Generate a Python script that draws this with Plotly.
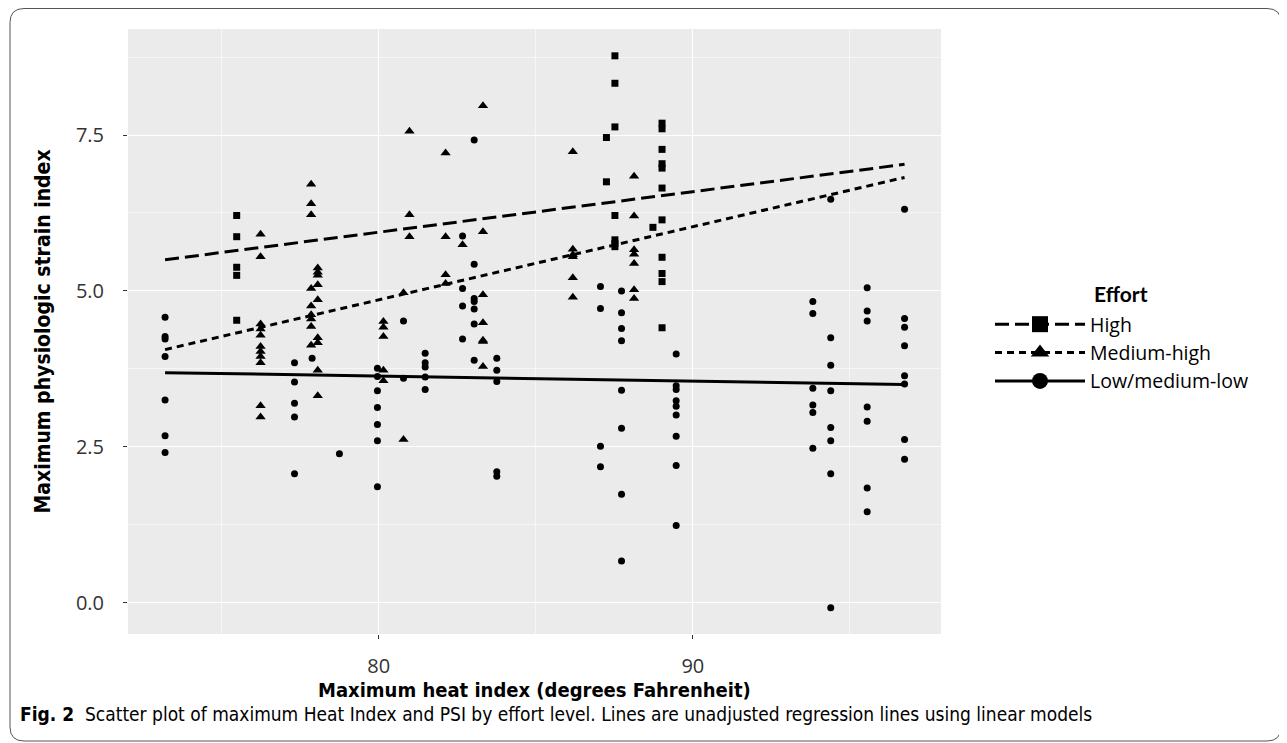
import plotly.graph_objects as go

# ---------------- data ----------------
high_x = [75.48]*5 + [87.25]*2 + [87.52]*7 + [88.73] + [89.02]*11
high_y = [6.21, 5.87, 5.38, 5.25, 4.53,
          7.46, 6.75,
          8.77, 8.33, 7.63, 6.21, 5.82, 5.76, 5.71,
          6.02,
          7.69, 7.60, 7.27, 7.04, 6.97, 6.65, 6.14, 5.54, 5.28, 5.15, 4.41]

med_x = ([76.24]*11 + [77.85]*9 + [78.06]*9 + [80.15]*5 + [80.79]*2 +
         [80.98]*3 + [82.13]*4 + [82.67] + [83.32]*7 + [86.18]*6 + [88.13]*7)
med_y = [5.91, 5.55, 4.47, 4.39, 4.29, 4.11, 4.03, 3.95, 3.85, 3.16, 2.98,
         6.71, 6.40, 6.22, 5.04, 4.76, 4.62, 4.55, 4.43, 4.13,
         5.37, 5.30, 5.25, 5.10, 4.86, 4.25, 4.17, 3.73, 3.32,
         4.51, 4.42, 4.27, 3.73, 3.56,
         4.97, 2.62,
         7.56, 6.22, 5.87,
         7.21, 5.87, 5.26, 5.12,
         5.74,
         7.97, 5.95, 4.94, 4.49, 4.21, 4.19, 3.79,
         7.23, 5.67, 5.58, 5.55, 5.21, 4.90,
         6.84, 6.20, 5.66, 5.59, 5.44, 5.02, 4.88]

low_x = ([73.20]*7 + [77.32]*5 + [77.88] + [78.75] + [79.96]*7 + [80.79]*2 +
         [81.48]*5 + [82.67]*4 + [83.04]*7 + [83.76]*5 + [87.06]*4 + [87.73]*8 +
         [89.47]*9 + [93.82]*6 + [94.39]*8 + [95.55]*7 + [96.74]*8)
low_y = [4.58, 4.27, 4.23, 3.95, 3.25, 2.68, 2.41,
         3.85, 3.54, 3.20, 2.98, 2.07,
         3.92,
         2.39,
         3.76, 3.63, 3.40, 3.13, 2.86, 2.60, 1.86,
         4.52, 3.60,
         4.00, 3.85, 3.78, 3.62, 3.42,
         5.88, 5.04, 4.76, 4.23,
         7.42, 5.43, 4.88, 4.83, 4.71, 4.47, 3.89,
         3.92, 3.73, 3.55, 2.10, 2.03,
         5.07, 4.72, 2.51, 2.18,
         5.00, 4.65, 4.40, 4.20, 3.41, 2.80, 1.74, 0.67,
         3.99, 3.48, 3.42, 3.24, 3.15, 3.01, 2.67, 2.20, 1.24,
         4.83, 4.64, 3.44, 3.17, 3.05, 2.48,
         6.47, 4.25, 3.81, 3.40, 2.81, 2.60, 2.07, -0.08,
         5.05, 4.68, 4.52, 3.14, 2.91, 1.84, 1.46,
         6.31, 4.56, 4.42, 4.12, 3.64, 3.51, 2.62, 2.30]

# regression line end points
fit_x = [73.20, 96.74]
high_fit = [5.50, 7.03]
med_fit = [4.06, 6.82]
low_fit = [3.69, 3.50]

groups = ["High", "Medium-high", "Low/medium-low"]

x_ticks = [80, 90]
x_minor = [75, 85, 95]
y_ticks = [0, 2.5, 5, 7.5]
y_ticklabels = ["0.0", "2.5", "5.0", "7.5"]
y_minor = [1.25, 3.75, 6.25, 8.75]

x_title = "Maximum heat index (degrees Fahrenheit)"
y_title = "Maximum physiologic strain index"
caption_bold = "Fig. 2"
caption_text = "Scatter plot of maximum Heat Index and PSI by effort level. Lines are unadjusted regression lines using linear models"

# ---------------- styling ----------------
OFF = 8  # page body margin of the browser
W, H = 1287 - OFF, 743 - OFF
ML, MT = 128 - OFF, 29 - OFF
PW, PH = 813, 605
MR, MB = W - ML - PW, H - MT - PH
COND = "Liberation Sans Narrow, DejaVu Sans Condensed, Arial Narrow, sans-serif"
TICKF = "Open Sans, DejaVu Sans, sans-serif"
LEGF = "Open Sans, Lato, sans-serif"

def px2x(p):
    return (p - OFF - ML) / PW

def px2y(p):
    return (MT + PH - (p - OFF)) / PH

symbols = ["square", "triangle-up", "circle"]
sizes = [7, 9, 7]
dashes = ["14px,6px", "7px,5px", "solid"]

fig = go.Figure()
for xs, ys, sym, sz in zip([high_x, med_x, low_x], [high_y, med_y, low_y], symbols, sizes):
    fig.add_trace(go.Scatter(x=xs, y=ys, mode="markers",
                             marker=dict(symbol=sym, size=sz, color="black"),
                             showlegend=False, hoverinfo="x+y"))
for fy, d in zip([high_fit, med_fit, low_fit], dashes):
    fig.add_trace(go.Scatter(x=fit_x, y=fy, mode="lines",
                             line=dict(color="black", width=3, dash=d),
                             showlegend=False, hoverinfo="skip"))
# legend keys
for name, sym, d in zip(groups, symbols, dashes):
    fig.add_trace(go.Scatter(x=[None], y=[None], mode="lines+markers", name=name,
                             marker=dict(symbol=sym, size=16, color="black"),
                             line=dict(color="black", width=3, dash=d)))

fig.update_layout(
    width=W, height=H, autosize=False,
    margin=dict(l=ML, r=MR, t=MT, b=MB),
    paper_bgcolor="white", plot_bgcolor="#EBEBEB",
    showlegend=True,
    legend=dict(x=px2x(990), y=px2y(305), xanchor="left", yanchor="top",
                font=dict(family=LEGF, size=19.5, color="black"),
                itemwidth=90, bgcolor="rgba(0,0,0,0)", tracegroupgap=0),
    xaxis=dict(range=[72.02, 97.9], tickvals=x_ticks, ticks="outside", ticklen=4,
               tickcolor="#333333", tickwidth=1, showgrid=True, gridcolor="white",
               gridwidth=1.3, zeroline=False, showline=False,
               tickfont=dict(family=TICKF, size=20, color="#333333"),
               ticklabelstandoff=10,
               minor=dict(tickvals=x_minor, showgrid=True, gridcolor="#F6F6F6",
                          gridwidth=0.7, ticks="")),
    yaxis=dict(range=[-0.5, 9.2], tickvals=y_ticks, ticktext=y_ticklabels,
               ticks="outside", ticklen=4, tickcolor="#333333", tickwidth=1,
               showgrid=True, gridcolor="white", gridwidth=1.3, zeroline=False,
               showline=False, tickfont=dict(family=TICKF, size=20, color="#333333"),
               ticklabelstandoff=15,
               minor=dict(tickvals=y_minor, showgrid=True, gridcolor="#F6F6F6",
                          gridwidth=0.7, ticks="")),
)

annotations = [
    dict(text="<b>" + x_title + "</b>", x=0.5, y=px2y(690), xref="paper", yref="paper",
         xanchor="center", yanchor="middle", showarrow=False,
         font=dict(family=COND, size=20, color="black")),
    dict(text="<b>" + y_title + "</b>", x=px2x(42), y=0.5, xref="paper", yref="paper",
         xanchor="center", yanchor="middle", showarrow=False, textangle=-90,
         font=dict(family=COND, size=21, color="black")),
    dict(text="<b>" + caption_bold + "</b>  " + caption_text, x=px2x(18), y=px2y(714),
         xref="paper", yref="paper", xanchor="left", yanchor="middle", showarrow=False,
         font=dict(family=COND, size=19, color="black")),
    dict(text="<b>Effort</b>", x=px2x(1092), y=px2y(293), xref="paper", yref="paper",
         xanchor="left", yanchor="middle", showarrow=False,
         font=dict(family="Lato, Open Sans, sans-serif", size=21, color="black")),
]
fig.update_layout(annotations=annotations)

# rounded outer border
L, T, R, B, r = 10, 8.5, 1281, 741, 14
path = (f"M {px2x(L)},{px2y(B - r)} L {px2x(L)},{px2y(T + r)} "
        f"Q {px2x(L)},{px2y(T)} {px2x(L + r)},{px2y(T)} "
        f"L {px2x(R - r)},{px2y(T)} Q {px2x(R)},{px2y(T)} {px2x(R)},{px2y(T + r)} "
        f"L {px2x(R)},{px2y(B - r)} Q {px2x(R)},{px2y(B)} {px2x(R - r)},{px2y(B)} "
        f"L {px2x(L + r)},{px2y(B)} Q {px2x(L)},{px2y(B)} {px2x(L)},{px2y(B - r)} Z")
fig.add_shape(type="path", path=path, xref="paper", yref="paper",
              line=dict(color="#555555", width=1), layer="below")

fig.write_html("out.html")
